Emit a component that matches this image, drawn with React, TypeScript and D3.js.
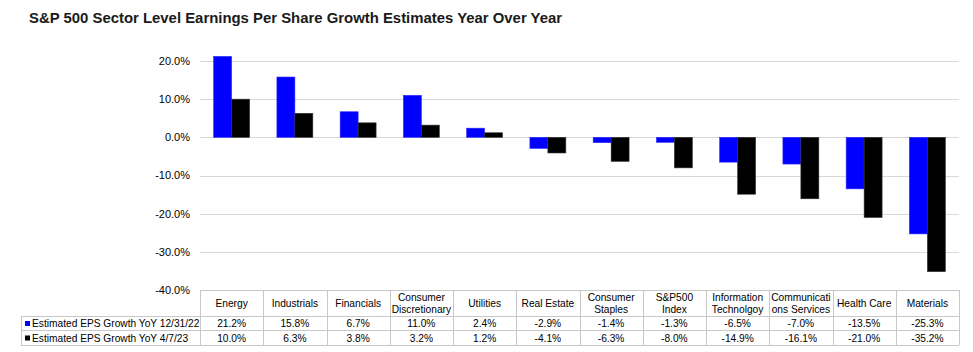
import React, { useRef, useEffect } from "react";
import * as d3 from "d3";

// sector labels as drawn in the table header (\n = line break)
const categories = [
  "Energy",
  "Industrials",
  "Financials",
  "Consumer\nDiscretionary",
  "Utilities",
  "Real Estate",
  "Consumer\nStaples",
  "S&P500\nIndex",
  "Information\nTechnolgoy",
  "Communicati\nons Services",
  "Health Care",
  "Materials",
];

const seriesNames = [
  "Estimated EPS Growth YoY 12/31/22",
  "Estimated EPS Growth YoY 4/7/23",
];

const eps123122 = [21.2, 15.8, 6.7, 11.0, 2.4, -2.9, -1.4, -1.3, -6.5, -7.0, -13.5, -25.3];
const eps4723 = [10.0, 6.3, 3.8, 3.2, 1.2, -4.1, -6.3, -8.0, -14.9, -16.1, -21.0, -35.2];

const yTicks = [20, 10, 0, -10, -20, -30, -40];

const colors = ["#0000ff", "#000000"];

const pct = (d) => d.toFixed(1) + "%";

const App = () => {
  const svgRef = useRef(null);

  useEffect(() => {
    document.body.style.margin = "0";
    const width = 973;
    const height = 352;
    const left = 200;
    const right = 959;
    const tableLeft = 21;
    const rowTops = [290, 316, 330, 345];
    const font = "Arial, 'Liberation Sans', sans-serif";
    const tableFont = 10.2;

    const svg = d3.select(svgRef.current);
    svg.selectAll("*").remove();
    svg.attr("width", width).attr("height", height);

    const values = [eps123122, eps4723];

    const x0 = d3.scaleBand().domain(categories).range([left, right]).padding(0);
    const x1 = d3
      .scaleBand()
      .domain(seriesNames)
      .range([0, x0.bandwidth()])
      .paddingInner(0)
      .paddingOuter(0.76);
    const y = d3.scaleLinear().domain([-40, 20]).range([290, 61]);

    // title
    svg
      .append("text")
      .attr("x", 29)
      .attr("y", 23)
      .attr("font-family", font)
      .attr("font-weight", "bold")
      .attr("font-size", 14.9)
      .attr("fill", "#1a1a1a")
      .text("S&P 500 Sector Level Earnings Per Share Growth Estimates Year Over Year");

    // gridlines
    svg
      .append("g")
      .selectAll("line")
      .data(yTicks)
      .enter()
      .append("line")
      .attr("x1", left)
      .attr("x2", right)
      .attr("y1", (d) => Math.round(y(d)) + 0.5)
      .attr("y2", (d) => Math.round(y(d)) + 0.5)
      .attr("stroke", "#d9d9d9")
      .attr("stroke-width", 1);

    // y labels
    svg
      .append("g")
      .selectAll("text")
      .data(yTicks)
      .enter()
      .append("text")
      .attr("x", 190)
      .attr("y", (d) => y(d))
      .attr("dy", "0.35em")
      .attr("text-anchor", "end")
      .attr("font-family", font)
      .attr("font-size", 11)
      .attr("fill", "#000")
      .text(pct);

    // bars
    seriesNames.forEach((s, si) => {
      svg
        .append("g")
        .selectAll("rect")
        .data(values[si])
        .enter()
        .append("rect")
        .attr("x", (d, i) => x0(categories[i]) + x1(s))
        .attr("width", x1.bandwidth())
        .attr("y", (d) => y(Math.max(0, d)))
        .attr("height", (d) => Math.abs(y(d) - y(0)))
        .attr("fill", colors[si])
        .attr("stroke", si === 0 ? "#2a2aff" : "#333")
        .attr("stroke-width", 0.6);
    });

    // data table
    const table = svg.append("g").attr("stroke", "#c8c8c8").attr("stroke-width", 1);
    table
      .append("line")
      .attr("x1", left).attr("x2", right)
      .attr("y1", rowTops[0] + 0.5).attr("y2", rowTops[0] + 0.5);
    rowTops.slice(1).forEach((r) => {
      table
        .append("line")
        .attr("x1", tableLeft).attr("x2", right)
        .attr("y1", r + 0.5).attr("y2", r + 0.5);
    });
    table
      .append("line")
      .attr("x1", tableLeft + 0.5).attr("x2", tableLeft + 0.5)
      .attr("y1", rowTops[1]).attr("y2", rowTops[3]);
    table
      .selectAll(".col")
      .data(categories)
      .enter()
      .append("line")
      .attr("x1", (d) => Math.round(x0(d)) + 0.5)
      .attr("x2", (d) => Math.round(x0(d)) + 0.5)
      .attr("y1", rowTops[0])
      .attr("y2", rowTops[3]);
    table
      .append("line")
      .attr("x1", right + 0.5).attr("x2", right + 0.5)
      .attr("y1", rowTops[0]).attr("y2", rowTops[3]);

    // header labels
    const headers = svg
      .append("g")
      .selectAll("text")
      .data(categories)
      .enter()
      .append("text")
      .attr("text-anchor", "middle")
      .attr("font-family", font)
      .attr("font-size", tableFont)
      .attr("fill", "#000");
    headers.each(function (d) {
      const lines = d.split("\n");
      const cx = x0(d) + x0.bandwidth() / 2;
      const mid = (rowTops[0] + rowTops[1]) / 2 + 0.5;
      lines.forEach((ln, li) => {
        d3.select(this)
          .append("tspan")
          .attr("x", cx)
          .attr("y", mid + (li - (lines.length - 1) / 2) * 12)
          .attr("dy", "0.35em")
          .text(ln);
      });
    });

    // series rows
    seriesNames.forEach((s, si) => {
      const mid = (rowTops[si + 1] + rowTops[si + 2]) / 2 + 0.5;
      svg
        .append("rect")
        .attr("x", 25)
        .attr("y", mid - 2.5)
        .attr("width", 5)
        .attr("height", 5)
        .attr("fill", colors[si]);
      svg
        .append("text")
        .attr("x", 32)
        .attr("y", mid)
        .attr("dy", "0.35em")
        .attr("font-family", font)
        .attr("font-size", tableFont)
        .attr("fill", "#000")
        .text(s);
      svg
        .append("g")
        .selectAll("text")
        .data(values[si])
        .enter()
        .append("text")
        .attr("x", (d, i) => x0(categories[i]) + x0.bandwidth() / 2)
        .attr("y", mid)
        .attr("dy", "0.35em")
        .attr("text-anchor", "middle")
        .attr("font-family", font)
        .attr("font-size", tableFont)
        .attr("fill", "#000")
        .text(pct);
    });
  }, []);

  return (
    <div>
      <svg ref={svgRef} style={{ display: "block" }}></svg>
    </div>
  );
};

export default App;
